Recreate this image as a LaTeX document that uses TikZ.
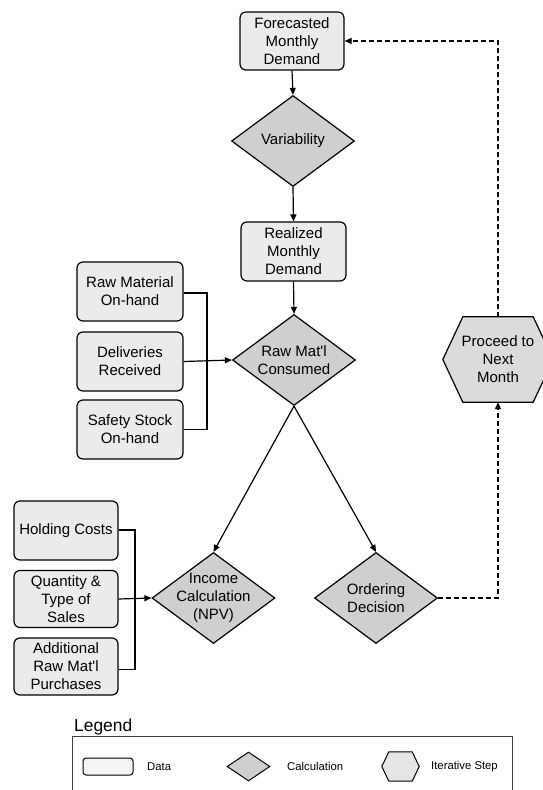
\documentclass[tikz,border=0pt]{standalone}
\usepackage{fontspec}
\setmainfont{Liberation Sans}
\usetikzlibrary{shapes.geometric,arrows.meta,backgrounds}
\begin{document}
\begin{tikzpicture}[x=1pt,y=-1pt,
  every node/.style={font=\fontsize{15}{18}\selectfont, align=center, inner sep=0pt},
  databox/.style={draw, rounded corners=6pt, fill=gray!16, line width=1.2pt,
                  minimum width=105pt, minimum height=59pt},
  calcnode/.style={draw, diamond, fill=gray!38, line width=1.2pt, inner sep=-16pt,
                   minimum width=123pt, minimum height=91pt},
  hexfill/.style={draw, fill=gray!28, line width=1.2pt, line join=miter},
  flow/.style={line width=1.2pt, -{Triangle[length=7pt,width=6pt]}},
  link/.style={line width=1.2pt},
  loop/.style={line width=1.2pt, dash pattern=on 5pt off 3pt, -{Triangle[length=7pt,width=6pt]}},
  legtext/.style={font=\fontsize{11.3}{13}\selectfont, anchor=west},
]
\useasboundingbox (0,0) rectangle (542,790);

% main column
\node[databox, minimum width=104pt, minimum height=58pt] (fore) at (292,41) {Forecasted\\Monthly\\Demand};
\node[calcnode] (var) at (293,141) {Variability};
\node[databox] (real) at (293.5,251.5) {Realized\\Monthly\\Demand};
\node[calcnode] (cons) at (294,360) {Raw Mat\textquotesingle l\\Consumed};

% upper inputs
\node[databox, minimum width=106pt] (rawm) at (130,291.5) {Raw Material\\On-hand};
\node[databox, minimum width=106pt] (deliv) at (130,361.5) {Deliveries\\Received};
\node[databox, minimum width=106pt] (safe) at (130,429.5) {Safety Stock\\On-hand};

% lower inputs
\node[databox, minimum width=104pt] (hold) at (66,530.5) {Holding Costs};
\node[databox, minimum width=104pt, minimum height=57pt] (qty) at (66,599) {Quantity \&\\Type of\\Sales};
\node[databox, minimum width=104pt, minimum height=57pt] (addl) at (66,666.5) {Additional\\Raw Mat\textquotesingle l\\Purchases};

\node[calcnode] (inc) at (213.5,598) {Income\\Calculation\\(NPV)};
\node[calcnode] (ord) at (376,598) {Ordering\\Decision};

% iterative step
\node[minimum width=110pt, minimum height=85pt] (next) at (498,359.5) {Proceed to\\Next\\Month};
\begin{pgfonlayer}{background}
\draw[hexfill] (next.west) -- ([xshift=20pt]next.north west) -- ([xshift=-20pt]next.north east)
  -- (next.east) -- ([xshift=-20pt]next.south east) -- ([xshift=20pt]next.south west) -- cycle;
\end{pgfonlayer}

% connectors
\draw[flow] (fore.south) -- (var.north);
\draw[flow] (var.south) -- (real.north);
\draw[flow] (real.south) -- (cons.north);
\coordinate (b1) at (207,293);
\coordinate (b2) at (135,530);
\draw[link] (rawm.east |- b1) -- (b1) |- (safe.east);
\draw[flow] (deliv.east) -- (cons.west);
\draw[link] (hold.east |- b2) -- (b2) |- ([yshift=-3pt]addl.east);
\draw[flow] (qty.east) -- (inc.west);
\draw[flow] (cons.south) -- (inc.north);
\draw[flow] (cons.south) -- (ord.north);
\draw[loop] (ord.east) -| (next.south);
\draw[loop] (next.north) |- (fore.east);

% legend
\node[font=\fontsize{17.4}{20}\selectfont, anchor=base west] (legtitle) at (74,731) {Legend};
\draw[line width=0.8pt, black!75] (72,800) -- (72,736) -- (512,736) -- (512,800);
\node[draw, rounded corners=3pt, fill=gray!8, line width=1pt, minimum width=50pt, minimum height=17pt] (ldata) at (108,766.5) {};
\node[legtext] (ldatat) at (147,766.5) {Data};
\node[draw, diamond, fill=gray!38, line width=1pt, minimum width=43pt, minimum height=29pt] (lcalc) at (248.5,766.5) {};
\node[legtext] (lcalct) at (287,766.5) {Calculation};
\node[minimum width=37pt, minimum height=29pt] (lhex) at (400.5,766.5) {};
\draw[hexfill, fill=gray!20, line width=1pt] (lhex.west) -- ([xshift=7pt]lhex.north west) -- ([xshift=-7pt]lhex.north east)
  -- (lhex.east) -- ([xshift=-7pt]lhex.south east) -- ([xshift=7pt]lhex.south west) -- cycle;
\node[legtext] (lhext) at (431,766.5) {Iterative Step};
\end{tikzpicture}
\end{document}
